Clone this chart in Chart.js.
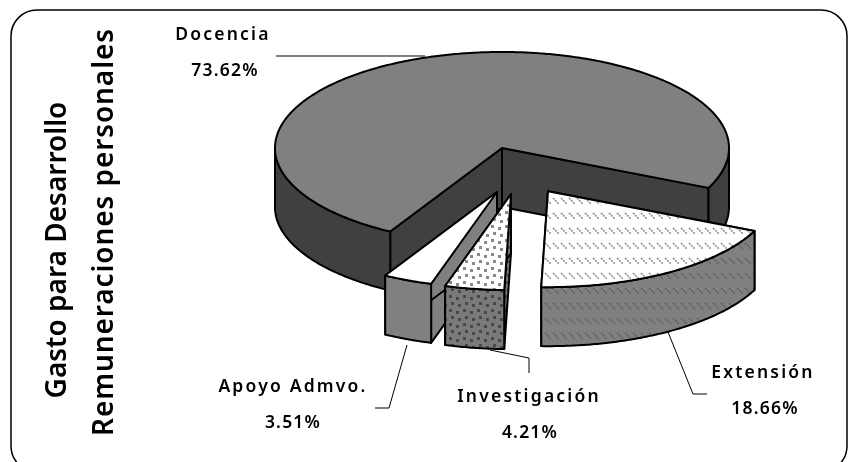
<!DOCTYPE html>
<html><head><meta charset="utf-8">
<style>html,body{margin:0;padding:0;background:#fff}#w{width:849px;height:462px;position:relative}canvas{display:block}</style>
<script src="https://cdn.jsdelivr.net/npm/chart.js@4"></script>
</head><body><div id="w"><canvas id="c" width="849" height="462"></canvas></div>
<script>
const categories = ['Docencia','Extensión','Investigación','Apoyo Admvo.'];
const shares = [73.62,18.66,4.21,3.51];
const titleLines = ['Gasto para Desarrollo','Remuneraciones personales'];

function patternOf(bg, fg, kind){
  const p=document.createElement('canvas'); const g=p.getContext('2d');
  if(kind==='dots'){
    p.width=14;p.height=14; g.fillStyle=bg;g.fillRect(0,0,14,14); g.fillStyle=fg;
    [[1,1],[8,3],[3,8],[10,10]].forEach(d=>g.fillRect(d[0],d[1],3,3));
  } else {
    p.width=8;p.height=15; g.fillStyle=bg;g.fillRect(0,0,8,15);
    g.strokeStyle=fg;g.lineWidth=1.6;
    g.setLineDash([2,1]);
    g.beginPath();g.moveTo(1,3);g.lineTo(7,9);g.stroke();
  }
  return g.createPattern(p,'repeat');
}
const painted = {
  top:[ '#808080', patternOf('#fff','#8c8c8c','hatch'), patternOf('#fff','#8a8a8a','dots'), '#fff' ],
  side:[ '#404040', patternOf('#808080','#606060','hatch'), patternOf('#7a7a7a','#484848','dots'), '#808080' ]
};

const pie3d = {
  id:'pie3d',
  beforeDatasetsDraw(chart,args,o){
    const ctx=chart.ctx, arcs=chart.getDatasetMeta(0).data;
    ctx.save();
    ctx.lineWidth=2; ctx.lineJoin='round'; ctx.strokeStyle='#000';
    o.order.forEach(i=>{
      const el=arcs[i], r=el.outerRadius, s=el.startAngle, e=el.endAngle;
      const ox=el.x+o.explode[i][0], oy=o.centerY+o.explode[i][1]*o.tilt;
      const pt=a=>[ox+r*Math.cos(a), oy+r*Math.sin(a)*o.tilt];
      const paint=(pts,fill)=>{
        ctx.beginPath(); pts.forEach((p,k)=>k?ctx.lineTo(p[0],p[1]):ctx.moveTo(p[0],p[1]));
        ctx.closePath(); ctx.fillStyle=fill; ctx.fill(); ctx.stroke();
      };
      const d=o.depth;
      [s,e].forEach(a=>{
        const p=pt(a);
        paint([[ox,oy],p,[p[0],p[1]+d],[ox,oy+d]],painted.side[i]);
      });
      const steps=Math.ceil((e-s)/0.01); let run=[];
      const flush=()=>{
        if(run.length>1) paint(run.concat(run.slice().reverse().map(p=>[p[0],p[1]+d])),painted.side[i]);
        run=[];
      };
      for(let k=0;k<=steps;k++){
        const a=s+(e-s)*k/steps;
        if(Math.sin(a)>=0) run.push(pt(a)); else flush();
      }
      flush();
      const face=[[ox,oy]];
      for(let k=0;k<=steps;k++) face.push(pt(s+(e-s)*k/steps));
      paint(face,painted.top[i]);
    });
    ctx.restore();
    return false;
  },
  afterDraw(chart,args,o){
    const ctx=chart.ctx;
    ctx.save();
    ctx.strokeStyle='#000';ctx.lineWidth=1.5;
    ctx.beginPath();ctx.roundRect(11,10,836,462,26);ctx.stroke();
    ctx.lineWidth=1;
    o.leaders.forEach(l=>{ctx.beginPath();l.forEach((p,k)=>k?ctx.lineTo(p[0],p[1]):ctx.moveTo(p[0],p[1]));ctx.stroke();});
    ctx.fillStyle='#000';ctx.textAlign='center';ctx.textBaseline='middle';
    ctx.font=o.labelFont;
    categories.forEach((c,i)=>{
      const q=o.labelAt[i];
      ctx.letterSpacing='2.2px';
      ctx.fillText(c,q[0],q[1]);
      ctx.letterSpacing='1.2px';
      ctx.fillText(shares[i].toFixed(2)+'%',q[2],q[3]);
    });
    ctx.font=o.titleFont;
    titleLines.forEach((t,i)=>{
      ctx.letterSpacing=o.titleSpacing[i];
      ctx.save();ctx.translate(o.titleAt[i][0],o.titleAt[i][1]);ctx.rotate(-Math.PI/2);
      ctx.fillText(t,0,0);ctx.restore();
    });
    ctx.restore();
  }
};

new Chart(document.getElementById('c'),{
  type:'pie',
  data:{labels:categories,datasets:[{data:shares,borderWidth:0,backgroundColor:'#808080'}]},
  plugins:[pie3d],
  options:{
    responsive:false,animation:false,rotation:209.5,
    layout:{padding:{left:275,right:120,top:4,bottom:4}},
    plugins:{legend:{display:false},tooltip:{enabled:false},title:{display:false},
      pie3d:{
        tilt:0.423,depth:59,centerY:148,order:[0,3,2,1],
        explode:[[0,0],[46,102],[9,109],[-5,104]],
        labelFont:'600 17.5px "Noto Sans"',
        titleFont:'600 28px "Noto Sans"',
        titleSpacing:['0px','0.9px'],
        labelAt:[[223,35,225,71],[763,373,765,409],[529,397,530,433],[293,387,293,423]],
        titleAt:[[58,250],[105,232]],
        leaders:[[[276,56],[425,56]],[[375,408],[389,408],[407,345]],[[529,373],[529,358],[490,350]],[[668,332],[693,394],[707,394]]]
      }}
  }
});
</script></body></html>
